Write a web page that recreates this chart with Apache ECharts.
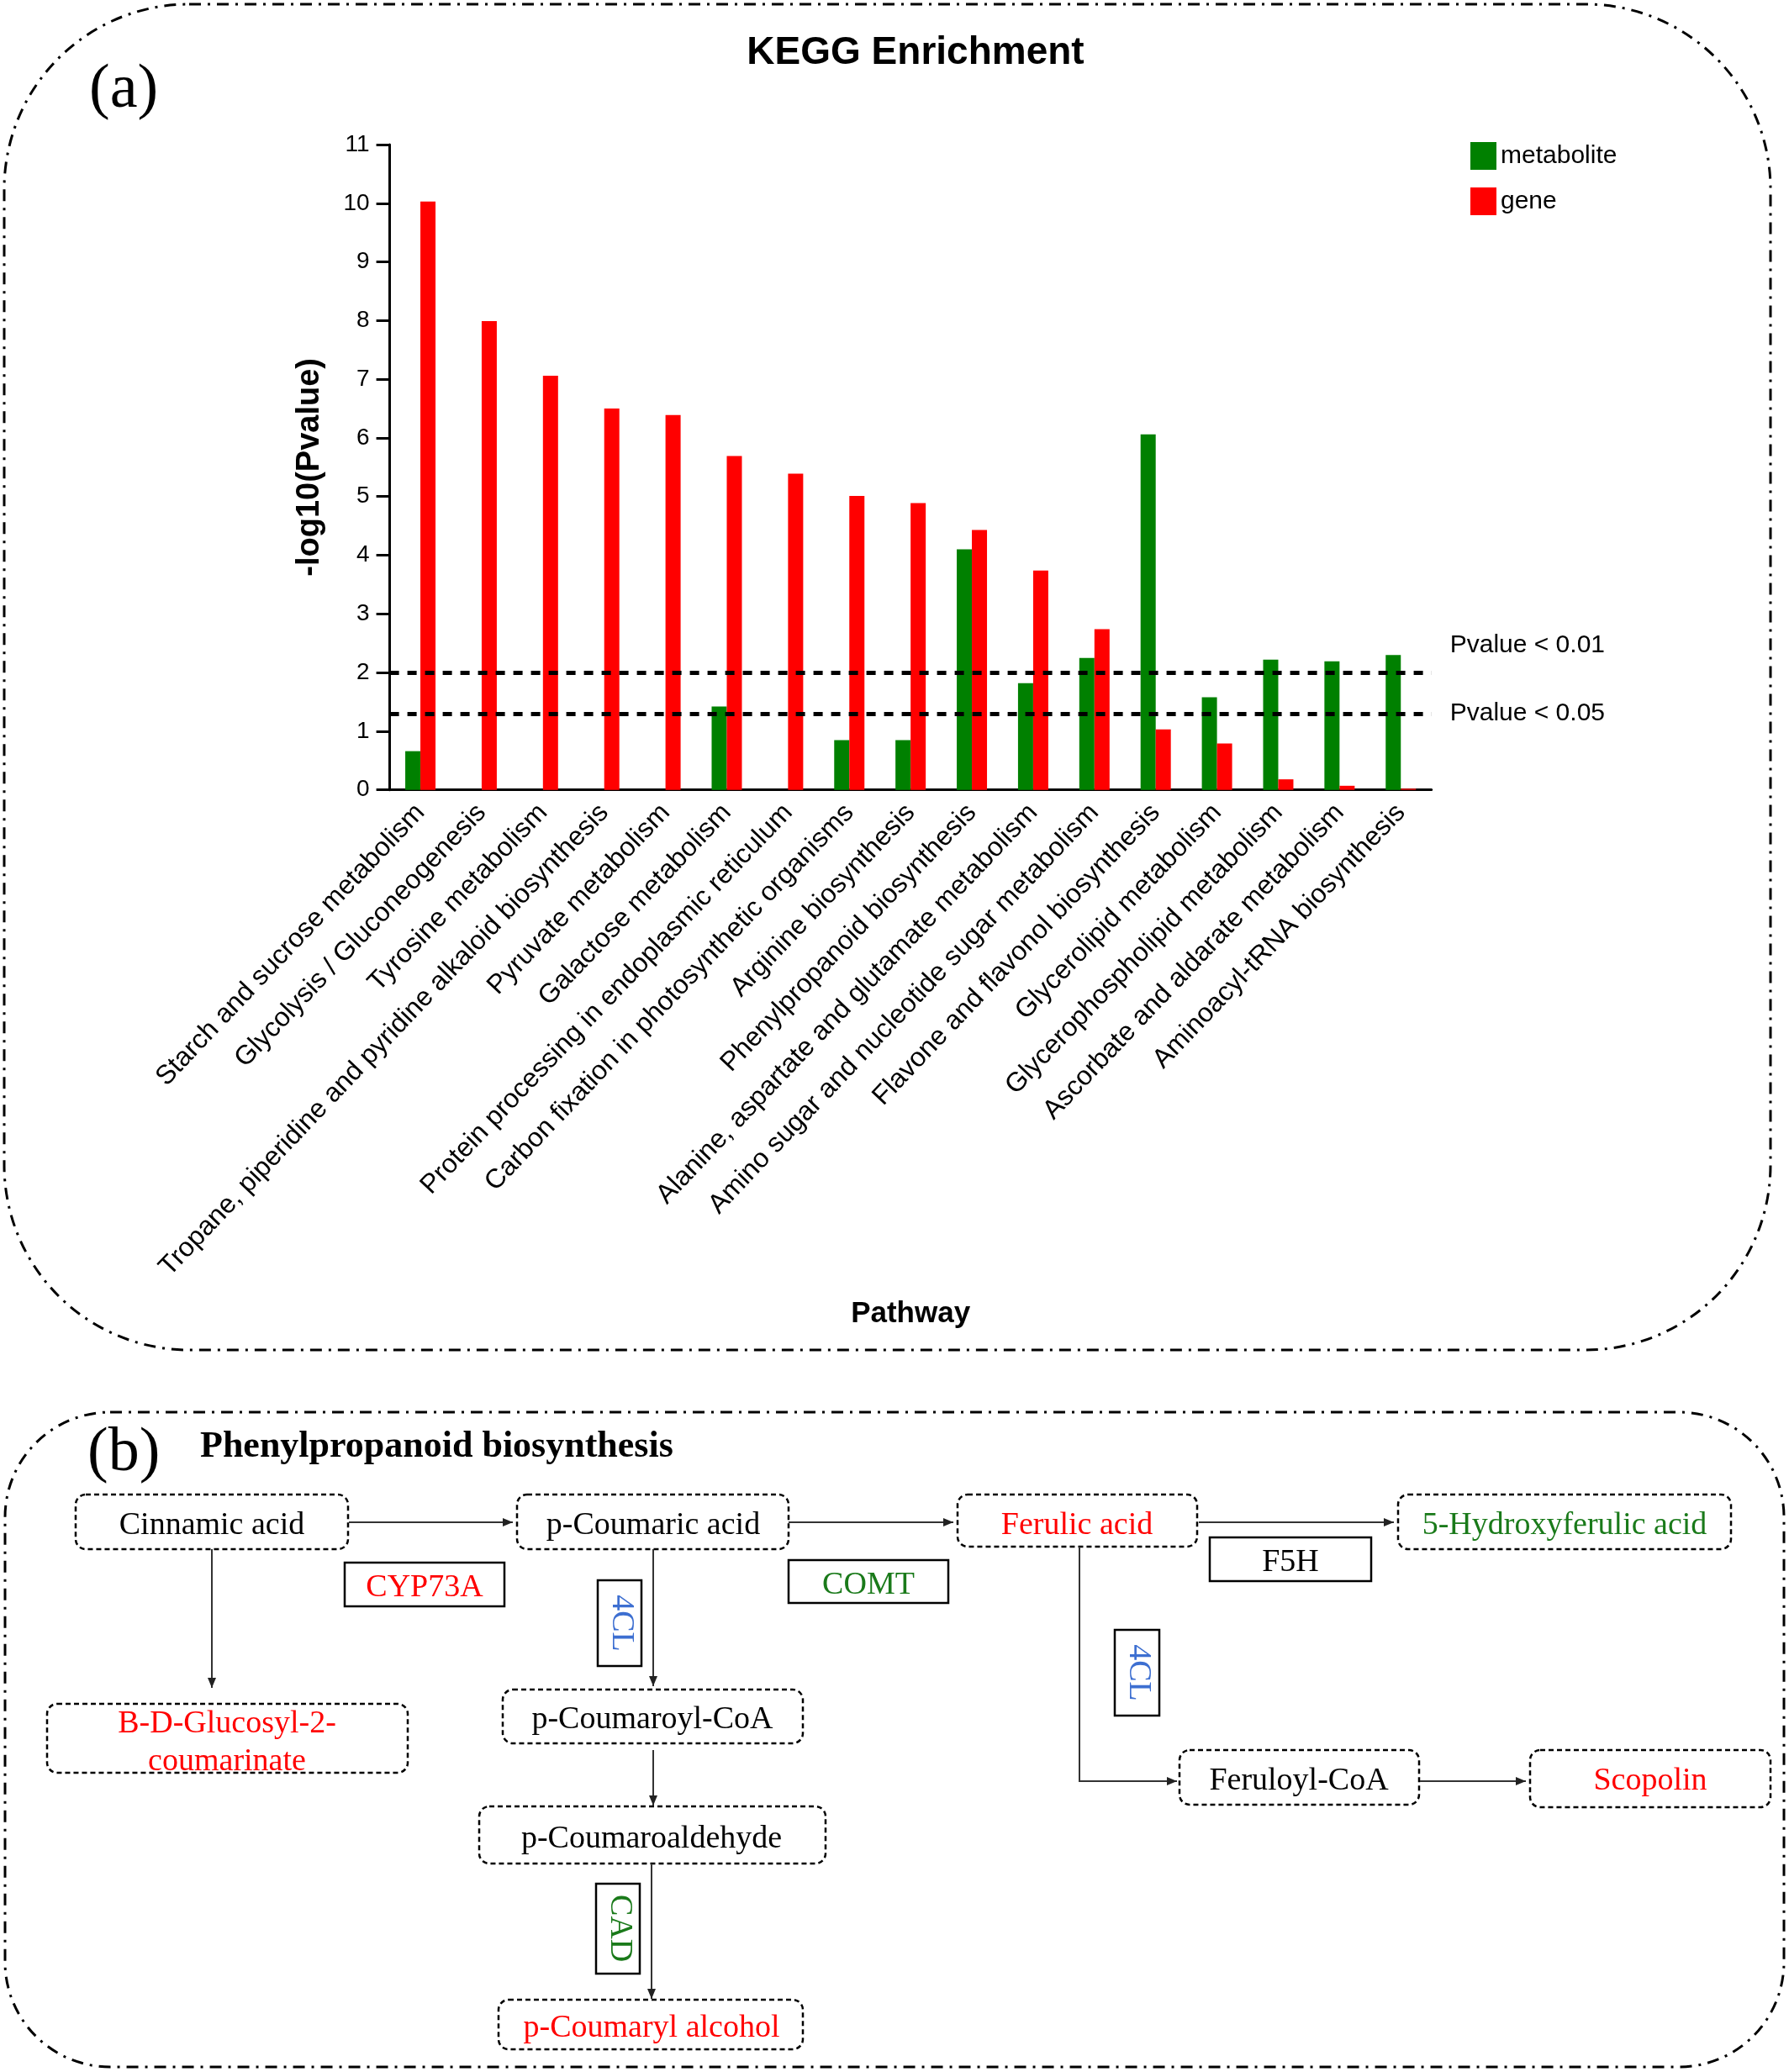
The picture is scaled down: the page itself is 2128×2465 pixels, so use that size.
<!DOCTYPE html>
<html>
<head>
<meta charset="utf-8">
<script src="https://cdn.jsdelivr.net/npm/echarts@6/dist/echarts.min.js"></script>
<style>
  html, body { margin: 0; padding: 0; background: #fff; }
  #chart { width: 2128px; height: 2465px; }
</style>
</head>
<body>
<div id="chart"></div>
<script>
// ---------- DATA (panel a) ----------
const pathways = [
  'Starch and sucrose metabolism',
  'Glycolysis / Gluconeogenesis',
  'Tyrosine metabolism',
  'Tropane, piperidine and pyridine alkaloid biosynthesis',
  'Pyruvate metabolism',
  'Galactose metabolism',
  'Protein processing in endoplasmic reticulum',
  'Carbon fixation in photosynthetic organisms',
  'Arginine biosynthesis',
  'Phenylpropanoid biosynthesis',
  'Alanine, aspartate and glutamate metabolism',
  'Amino sugar and nucleotide sugar metabolism',
  'Flavone and flavonol biosynthesis',
  'Glycerolipid metabolism',
  'Glycerophospholipid metabolism',
  'Ascorbate and aldarate metabolism',
  'Aminoacyl-tRNA biosynthesis'
];
const metaboliteValues = [0.66, 0, 0, 0, 0, 1.42, 0, 0.85, 0.85, 4.10, 1.82, 2.25, 6.06, 1.58, 2.22, 2.19, 2.30];
const geneValues       = [10.03, 7.99, 7.06, 6.50, 6.39, 5.69, 5.39, 5.01, 4.89, 4.43, 3.74, 2.74, 1.03, 0.79, 0.18, 0.07, 0.02];
const thresholds = [2, 1.301];
const thresholdLabels = ['Pvalue < 0.01', 'Pvalue < 0.05'];
const seriesNames = ['metabolite', 'gene'];

// ---------- DATA (panel b) ----------
const compounds = ['Cinnamic acid', 'p-Coumaric acid', 'Ferulic acid', '5-Hydroxyferulic acid',
  'B-D-Glucosyl-2-\ncoumarinate', 'p-Coumaroyl-CoA', 'p-Coumaroaldehyde', 'p-Coumaryl alcohol',
  'Feruloyl-CoA', 'Scopolin'];
const compoundStatus = ['none', 'none', 'red', 'green', 'red', 'none', 'none', 'red', 'none', 'red'];
const enzymes = ['CYP73A', 'COMT', 'F5H', '4CL', '4CL', 'CAD'];
const enzymeStatus = ['red', 'green', 'none', 'blue', 'blue', 'green'];

// ---------- LAYOUT / STYLE ----------
const statusColor = { none: '#000000', red: '#ff0000', green: '#1a7a1a', blue: '#3d6fd1' };
const compoundBoxes = [ // x0,y0,x1,y1, tx,ty
  [90, 1778, 414, 1843, 252, 1815],
  [615, 1778, 938, 1843, 777, 1815],
  [1139, 1778, 1424, 1840, 1281, 1815],
  [1663, 1778, 2059, 1843, 1861, 1815],
  [56, 2027, 485, 2109, 270, 2074],
  [598, 2010, 955, 2074, 776, 2046],
  [570, 2149, 982, 2217, 775, 2188],
  [593, 2379, 955, 2438, 775, 2413],
  [1403, 2082, 1688, 2147, 1545, 2119],
  [1820, 2082, 2106, 2150, 1963, 2119]
];
const enzymeBoxes = [ // x0,y0,x1,y1, tx,ty, vertical
  [410, 1859, 600, 1911, 505, 1889, false],
  [938, 1856, 1128, 1907, 1033, 1886, false],
  [1439, 1829, 1631, 1881, 1535, 1859, false],
  [711, 1880, 763, 1982, 739, 1931, true],
  [1326, 1939, 1379, 2041, 1354, 1990, true],
  [709, 2241, 761, 2348, 737, 2294, true]
];
const arrows = [
  [[415, 1811], [610, 1811]],
  [[938, 1811], [1134, 1811]],
  [[1426, 1811], [1658, 1811]],
  [[252, 1843], [252, 2008]],
  [[777, 1843], [777, 2006]],
  [[777, 2082], [777, 2148]],
  [[775, 2217], [775, 2378]],
  [[1284, 1840], [1284, 2119], [1400, 2119]],
  [[1689, 2119], [1815, 2119]]
];

const SANS = "'Liberation Sans', Arial, Helvetica, sans-serif";
const SERIF = "'Liberation Serif', 'Times New Roman', serif";

const graphics = [];
// panel borders
graphics.push({ type: 'rect', shape: { x: 5, y: 5, width: 2101, height: 1601, r: 220 },
  style: { fill: 'none', stroke: '#000', lineWidth: 3, lineDash: [14, 8, 3, 8] }, z: 1 });
graphics.push({ type: 'rect', shape: { x: 6, y: 1680, width: 2116, height: 779, r: 125 },
  style: { fill: 'none', stroke: '#000', lineWidth: 3, lineDash: [14, 8, 3, 8] }, z: 1 });
// panel letters
graphics.push({ type: 'text', x: 106, y: 108, style: { text: '(a)', font: '74px ' + SERIF, fill: '#000',
  align: 'left', verticalAlign: 'middle', textAlign: 'left', textVerticalAlign: 'middle' } });
graphics.push({ type: 'text', x: 104, y: 1730, style: { text: '(b)', font: '74px ' + SERIF, fill: '#000',
  align: 'left', verticalAlign: 'middle', textAlign: 'left', textVerticalAlign: 'middle' } });
graphics.push({ type: 'text', x: 238, y: 1722, style: { text: 'Phenylpropanoid biosynthesis', font: 'bold 44px ' + SERIF,
  fill: '#000', align: 'left', verticalAlign: 'middle', textAlign: 'left', textVerticalAlign: 'middle' } });

// compound boxes
compounds.forEach((name, i) => {
  const b = compoundBoxes[i];
  graphics.push({ type: 'rect', shape: { x: b[0], y: b[1], width: b[2] - b[0], height: b[3] - b[1], r: 12 },
    style: { fill: 'none', stroke: '#000', lineWidth: 2.5, lineDash: [6, 4] } });
  graphics.push({ type: 'text', x: b[4], y: b[5], style: { text: name, font: '38px ' + SERIF,
    fill: statusColor[compoundStatus[i]], lineHeight: 45,
    align: 'center', verticalAlign: 'middle', textAlign: 'center', textVerticalAlign: 'middle' } });
});
// enzyme boxes
enzymes.forEach((name, i) => {
  const b = enzymeBoxes[i];
  graphics.push({ type: 'rect', shape: { x: b[0], y: b[1], width: b[2] - b[0], height: b[3] - b[1] },
    style: { fill: '#fff', stroke: '#000', lineWidth: 2.5 } });
  graphics.push({ type: 'text', x: b[4], y: b[5], rotation: b[6] ? -Math.PI / 2 : 0,
    style: { text: name, font: '38px ' + SERIF, fill: statusColor[enzymeStatus[i]],
      align: 'center', verticalAlign: 'middle', textAlign: 'center', textVerticalAlign: 'middle' } });
});
// arrows
arrows.forEach(pts => {
  graphics.push({ type: 'polyline', shape: { points: pts }, style: { stroke: '#333', lineWidth: 2, fill: 'none' } });
  const p1 = pts[pts.length - 2], p2 = pts[pts.length - 1];
  const dx = p2[0] - p1[0], dy = p2[1] - p1[1];
  const len = Math.hypot(dx, dy), ux = dx / len, uy = dy / len;
  const L = 12, W = 5;
  graphics.push({ type: 'polygon', shape: { points: [
    [p2[0], p2[1]],
    [p2[0] - ux * L - uy * W, p2[1] - uy * L + ux * W],
    [p2[0] - ux * L + uy * W, p2[1] - uy * L - ux * W]
  ] }, style: { fill: '#222' } });
});

const chart = echarts.init(document.getElementById('chart'), null, { renderer: 'canvas' });
chart.setOption({
  backgroundColor: '#fff',
  animation: false,
  title: {
    text: 'KEGG Enrichment', left: 1084, top: 35, textAlign: 'center',
    textStyle: { fontFamily: SANS, fontSize: 46, fontWeight: 'bold', color: '#000' }
  },
  legend: {
    orient: 'vertical', left: 1744, top: 164, itemWidth: 31, itemHeight: 33, itemGap: 21,
    icon: 'rect', data: seriesNames,
    textStyle: { fontFamily: SANS, fontSize: 30, color: '#000' }
  },
  grid: { left: 463.6, right: 425.3, top: 172, bottom: 1525.3, containLabel: false },
  xAxis: {
    type: 'category', data: pathways,
    name: 'Pathway', nameLocation: 'middle', nameGap: 606,
    nameTextStyle: { fontFamily: SANS, fontSize: 35, fontWeight: 'bold', color: '#000' },
    axisLine: { lineStyle: { color: '#000', width: 3 } },
    axisTick: { alignWithLabel: true, length: 16, lineStyle: { color: '#000', width: 3 } },
    axisLabel: { interval: 0, rotate: 46.5, margin: 22, fontFamily: SANS, fontSize: 32, color: '#000' }
  },
  yAxis: {
    type: 'value', min: 0, max: 11, interval: 1,
    name: '-log10(Pvalue)', nameLocation: 'middle', nameGap: 76,
    nameTextStyle: { fontFamily: SANS, fontSize: 38, fontWeight: 'bold', color: '#000' },
    axisLine: { show: true, lineStyle: { color: '#000', width: 3 } },
    axisTick: { show: true, length: 16, lineStyle: { color: '#000', width: 3 } },
    axisLabel: { margin: 24, fontFamily: SANS, fontSize: 28, color: '#000' },
    splitLine: { show: false }
  },
  series: [
    {
      name: seriesNames[0], type: 'bar', data: metaboliteValues, barWidth: 18, barGap: '0%',
      itemStyle: { color: '#008000' },
      markLine: {
        silent: true, symbol: 'none',
        lineStyle: { color: '#000', width: 5, type: [11, 10] },
        data: thresholds.map((t, i) => ({
          yAxis: t,
          label: {
            show: true, position: 'end', distance: 22,
            formatter: i === 0 ? thresholdLabels[i] + '\n' : thresholdLabels[i],
            lineHeight: i === 0 ? 64 : 36,
            fontFamily: SANS, fontSize: 30, color: '#000'
          }
        }))
      }
    },
    {
      name: seriesNames[1], type: 'bar', data: geneValues, barWidth: 18, barGap: '0%',
      itemStyle: { color: '#ff0000' }
    }
  ],
  graphic: { elements: graphics }
});
</script>
</body>
</html>
